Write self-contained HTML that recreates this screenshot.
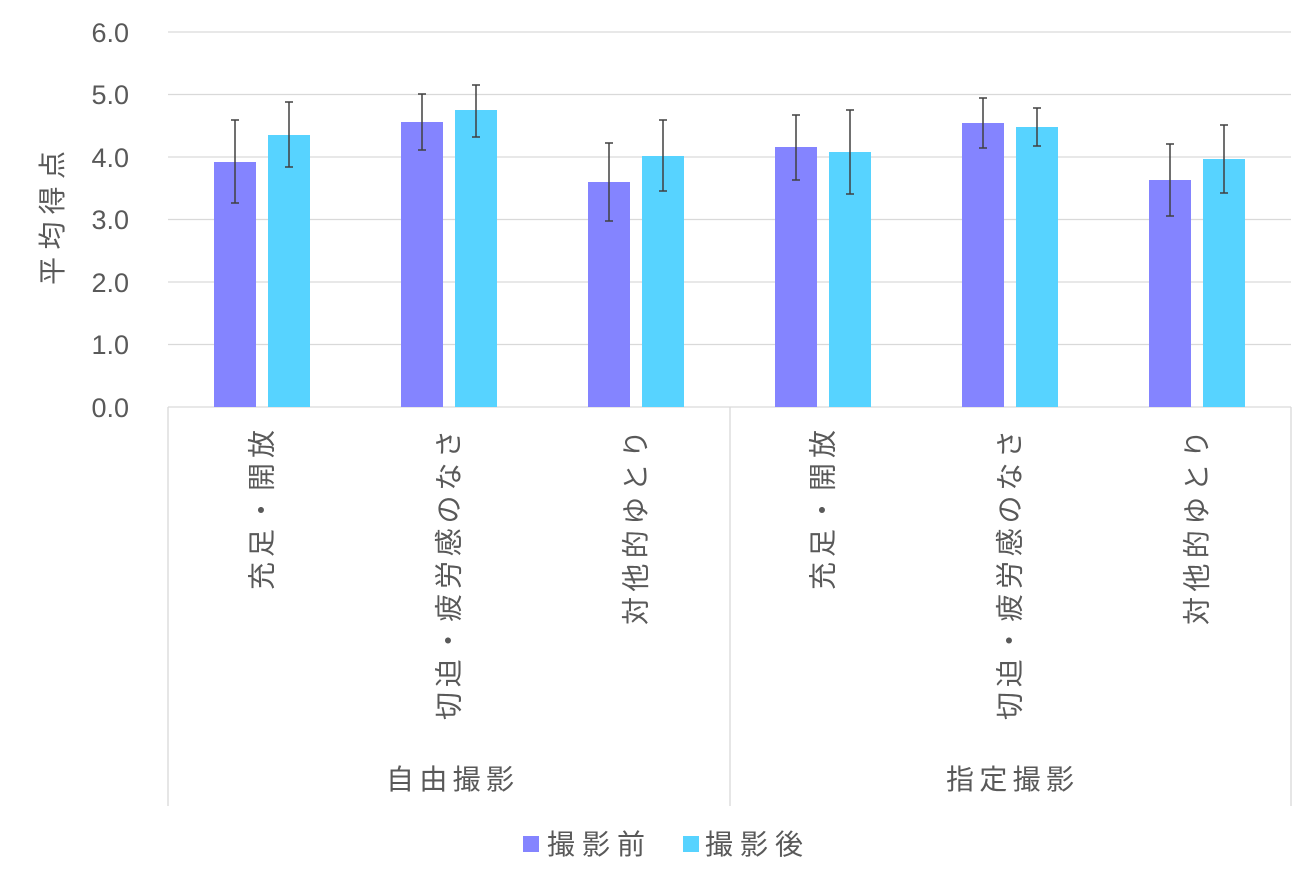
<!DOCTYPE html>
<html><head><meta charset="utf-8"><style>
html,body{margin:0;padding:0;background:#fff;}
svg{display:block;font-family:"Liberation Sans","Noto Sans CJK JP",sans-serif;}
</style></head><body>
<svg width="1313" height="884" viewBox="0 0 1313 884" xmlns="http://www.w3.org/2000/svg">
<g stroke="#d9d9d9" stroke-width="1.3">
<line x1="168" y1="32" x2="1291" y2="32"/>
<line x1="168" y1="94.5" x2="1291" y2="94.5"/>
<line x1="168" y1="157" x2="1291" y2="157"/>
<line x1="168" y1="219.5" x2="1291" y2="219.5"/>
<line x1="168" y1="282" x2="1291" y2="282"/>
<line x1="168" y1="344.5" x2="1291" y2="344.5"/>
<line x1="168" y1="407" x2="1291" y2="407"/>
<line x1="168" y1="407" x2="168" y2="806"/>
<line x1="730" y1="407" x2="730" y2="806"/>
<line x1="1291" y1="407" x2="1291" y2="806"/>
</g>
<g font-size="27" fill="#595959" text-anchor="end">
<text x="129" y="42">6.0</text>
<text x="129" y="104">5.0</text>
<text x="129" y="167">4.0</text>
<text x="129" y="229">3.0</text>
<text x="129" y="292">2.0</text>
<text x="129" y="354">1.0</text>
<text x="129" y="417">0.0</text>
</g>
<text transform="translate(62,218) rotate(-90)" font-size="28" fill="#595959" text-anchor="middle" textLength="134" lengthAdjust="spacing">平均得点</text>
<g fill="#8484ff">
<rect x="214" y="162" width="42" height="245"/>
<rect x="401" y="122" width="42" height="285"/>
<rect x="588" y="182" width="42" height="225"/>
<rect x="775" y="147" width="42" height="260"/>
<rect x="962" y="123" width="42" height="284"/>
<rect x="1149" y="180" width="42" height="227"/>
</g>
<g fill="#57d3ff">
<rect x="268" y="135" width="42" height="272"/>
<rect x="455" y="110" width="42" height="297"/>
<rect x="642" y="156" width="42" height="251"/>
<rect x="829" y="152" width="42" height="255"/>
<rect x="1016" y="127" width="42" height="280"/>
<rect x="1203" y="159" width="42" height="248"/>
</g>
<g stroke="#404040" stroke-width="1.5">
<path d="M235 120V203M231 120h8M231 203h8"/>
<path d="M289 102V167M285 102h8M285 167h8"/>
<path d="M422 94V150M418 94h8M418 150h8"/>
<path d="M476 85V137M472 85h8M472 137h8"/>
<path d="M609 143V221M605 143h8M605 221h8"/>
<path d="M663 120V191M659 120h8M659 191h8"/>
<path d="M796 115V180M792 115h8M792 180h8"/>
<path d="M850 110V194M846 110h8M846 194h8"/>
<path d="M983 98V148M979 98h8M979 148h8"/>
<path d="M1037 108V146M1033 108h8M1033 146h8"/>
<path d="M1170 144V216M1166 144h8M1166 216h8"/>
<path d="M1224 125V193M1220 125h8M1220 193h8"/>
</g>
<g font-size="28" fill="#595959" text-anchor="end" dominant-baseline="central">
<text transform="translate(262,430) rotate(-90)" textLength="160" lengthAdjust="spacing">充足・開放</text>
<text transform="translate(449,430) rotate(-90)" textLength="290" lengthAdjust="spacing">切迫・疲労感のなさ</text>
<text transform="translate(636,430) rotate(-90)" textLength="195" lengthAdjust="spacing">対他的ゆとり</text>
<text transform="translate(823,430) rotate(-90)" textLength="160" lengthAdjust="spacing">充足・開放</text>
<text transform="translate(1010,430) rotate(-90)" textLength="290" lengthAdjust="spacing">切迫・疲労感のなさ</text>
<text transform="translate(1197,430) rotate(-90)" textLength="195" lengthAdjust="spacing">対他的ゆとり</text>
</g>
<g font-size="28" fill="#595959">
<text x="386" y="789" textLength="128" lengthAdjust="spacing">自由撮影</text>
<text x="946" y="789" textLength="128" lengthAdjust="spacing">指定撮影</text>
</g>
<rect x="523" y="836" width="16" height="16" fill="#8484ff"/>
<text x="547" y="854" font-size="28" fill="#595959" textLength="98" lengthAdjust="spacing">撮影前</text>
<rect x="683" y="836" width="16" height="16" fill="#57d3ff"/>
<text x="705" y="854" font-size="28" fill="#595959" textLength="98" lengthAdjust="spacing">撮影後</text>
</svg>
</body></html>
